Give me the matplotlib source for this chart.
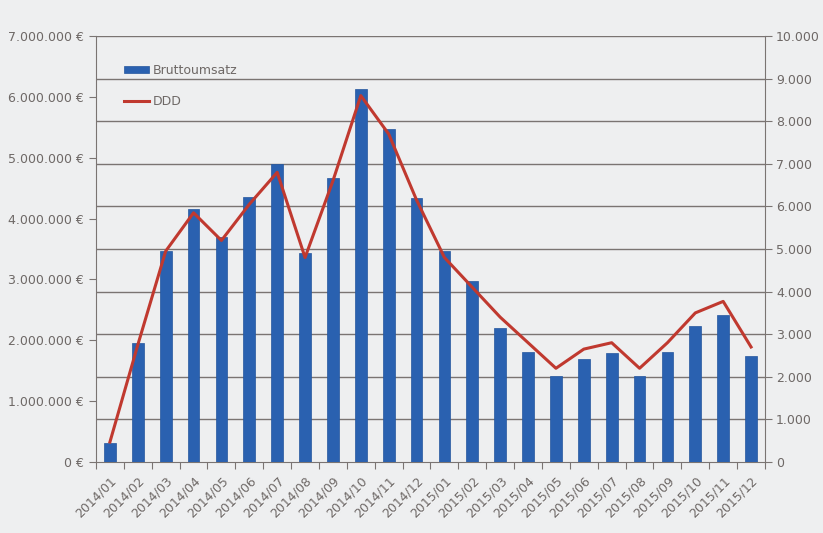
import matplotlib
matplotlib.use("Agg")
import matplotlib.pyplot as plt
import numpy as np
from matplotlib.ticker import FuncFormatter, MultipleLocator

months = ["2014/01", "2014/02", "2014/03", "2014/04", "2014/05", "2014/06",
          "2014/07", "2014/08", "2014/09", "2014/10", "2014/11", "2014/12",
          "2015/01", "2015/02", "2015/03", "2015/04", "2015/05", "2015/06",
          "2015/07", "2015/08", "2015/09", "2015/10", "2015/11", "2015/12"]
bruttoumsatz = [320000, 1950000, 3460000, 4160000, 3700000, 4360000,
                4890000, 3430000, 4670000, 6130000, 5480000, 4340000,
                3460000, 2980000, 2210000, 1800000, 1410000, 1700000,
                1790000, 1410000, 1800000, 2230000, 2410000, 1740000]
ddd = [470, 2750, 4950, 5850, 5200, 6050,
       6800, 4800, 6600, 8600, 7700, 6150,
       4800, 4100, 3400, 2800, 2200, 2650,
       2800, 2200, 2800, 3500, 3770, 2700]

bg = "#eeeff0"
grid_c = "#7a7472"
text_c = "#6e6866"
fs = 9

fig = plt.figure(figsize=(8.23, 5.33), dpi=100, facecolor=bg)
ax = fig.add_axes([96/823, 71/533, (765-96)/823, (462-36)/533])
ax2 = ax.twinx()

x = np.arange(len(months))
bars = ax.bar(x, bruttoumsatz, width=0.42, color="#2a61b0", edgecolor="#24569e",
              linewidth=0.5, label="Bruttoumsatz", zorder=3)
ax.set_xlim(-0.5, len(months) - 0.5)
ax.set_ylim(0, 7000000)
ax.yaxis.set_major_locator(MultipleLocator(1000000))
ax.yaxis.set_major_formatter(FuncFormatter(lambda v, p: f"{int(v):,}".replace(",", ".") + " €"))

ax2.set_ylim(0, 10000)
ax2.yaxis.set_major_locator(MultipleLocator(1000))
ax2.yaxis.set_major_formatter(FuncFormatter(lambda v, p: f"{int(v):,}".replace(",", ".")))

# gridlines follow the right axis
for v in range(1000, 10001, 1000):
    ax2.axhline(v, color=grid_c, linewidth=1.0, zorder=1)

ax.set_xticks(np.arange(-0.5, len(months), 1))
ax.set_xticklabels([])
ax.set_xticks(x, minor=True)
ax.set_xticklabels(months, minor=True, rotation=45, ha="right",
                   rotation_mode="anchor", fontsize=fs, color=text_c)
ax.tick_params(axis="x", which="minor", length=0, pad=9)
ax.tick_params(axis="x", which="major", length=5, color=grid_c, direction="out")
ax.tick_params(axis="y", length=5, color=grid_c, labelsize=fs, labelcolor=text_c, pad=4)
ax2.tick_params(axis="y", length=5, color=grid_c, labelsize=fs, labelcolor=text_c, pad=3)

for a in (ax, ax2):
    for s in a.spines.values():
        s.set_visible(False)
ax.spines["left"].set_visible(True)
ax.spines["left"].set_color(grid_c)
ax.spines["bottom"].set_visible(True)
ax.spines["bottom"].set_color(grid_c)
ax2.spines["right"].set_visible(True)
ax2.spines["right"].set_color(grid_c)

# draw order: gridlines (ax2) below bars and line (ax)
ax2.set_zorder(1)
ax.set_zorder(2)
ax.patch.set_visible(False)
ax2.patch.set_facecolor(bg)

# DDD line drawn on the primary axes, scaled from the secondary axis range
scale = ax.get_ylim()[1] / ax2.get_ylim()[1]
line, = ax.plot(x, np.array(ddd) * scale, color="#c0392f", linewidth=2.2,
                zorder=4, label="DDD")

ax.legend([bars, line], ["Bruttoumsatz", "DDD"], loc="upper left",
          bbox_to_anchor=(0.025, 0.96), frameon=False, fontsize=fs,
          labelcolor=text_c, handlelength=2.0, handleheight=0.5,
          labelspacing=1.4, handletextpad=0.3)

fig.savefig("out.png", dpi=100, facecolor=bg)
